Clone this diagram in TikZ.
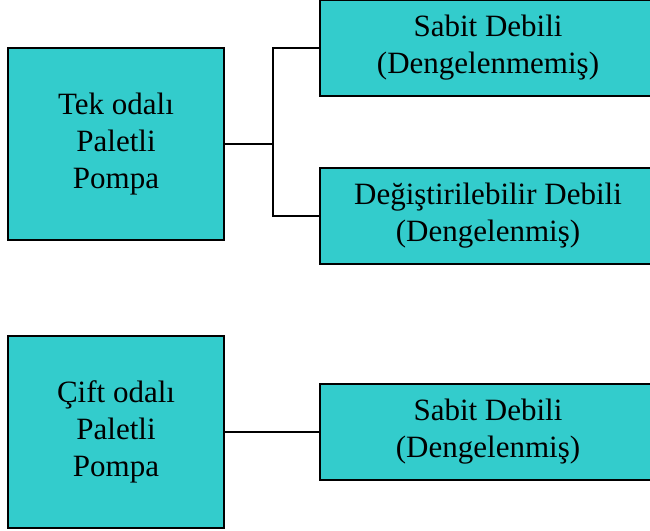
\documentclass[tikz,border=0pt]{standalone}
\usepackage{fontspec}
\setmainfont{Liberation Serif}
\usetikzlibrary{positioning}
\definecolor{boxcyan}{HTML}{33CCCC}

\begin{document}
\begin{tikzpicture}[x=1pt,y=-1pt,line width=1.4pt,
                    pump node/.style={rectangle,draw,fill=boxcyan,minimum width=216pt,minimum height=192pt,
                                      inner sep=0pt,align=center,font=\fontsize{31}{37}\selectfont},
                    type node/.style={rectangle,draw,fill=boxcyan,minimum width=336pt,minimum height=96pt,
                                      inner sep=0pt,align=center,font=\fontsize{31}{37}\selectfont}]
    \useasboundingbox (0,0) rectangle (650,530);
    \node[pump node] (tek) at (116,144) {Tek odalı\\Paletli\\Pompa};
    \node[type node] (sabit1) at (488,48) {Sabit Debili\\(Dengelenmemiş)};
    \node[type node] (degis) at (488,216) {Değiştirilebilir Debili\\(Dengelenmiş)};
    \node[pump node] (cift) at (116,432) {Çift odalı\\Paletli\\Pompa};
    \node[type node] (sabit2) at (488,432) {Sabit Debili\\(Dengelenmiş)};
    \coordinate (bus) at (273,144);

    \draw (tek.east) -- (bus) |- (sabit1.west);
    \draw (bus) |- (degis.west);
    \draw (cift.east) -- (sabit2.west);
\end{tikzpicture}
\end{document}
